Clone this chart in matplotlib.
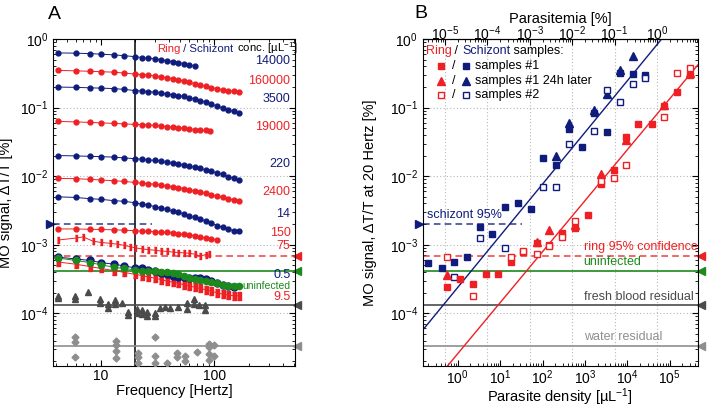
import numpy as np
import matplotlib.pyplot as plt
from matplotlib import ticker
from matplotlib.transforms import blended_transform_factory as blend

plt.rcParams['font.family'] = ['Liberation Sans', 'DejaVu Sans']
plt.rcParams['mathtext.default'] = 'regular'
plt.rcParams['font.size'] = 10

NAVY = '#0f1c7c'
RED = '#ee2024'
GREEN = '#1c8a1c'
DGRAY = '#4b4b4b'
LGRAY = '#8e8e8e'

# ---------------- panel A data (frequency sweeps) ----------------
f_long = [4.2, 6, 8, 10, 13, 16, 20, 23, 26, 30, 34, 38, 43, 48, 54, 60, 67, 75, 84, 94, 105, 118, 132, 148, 165]
f_mid = [4.2, 6, 8, 10, 13, 16, 20, 23, 26, 30, 34, 38, 43, 48, 54, 60, 67, 75, 84, 92]
f_short = [4.2, 6, 8, 10, 13, 16, 20, 23, 26, 30, 34, 38, 43, 48, 54, 60, 67]
f_150 = [4.2, 6, 8, 10, 13, 16, 20, 23, 26, 30, 34, 38, 43, 48, 54, 60, 67, 75, 84, 94, 105]
f_75 = [4.2, 6, 7, 8.5, 10, 12, 14, 16, 18, 20, 23, 26, 30, 34, 38, 43, 48, 54, 60, 67, 75, 84, 89]

schiz_14000 = [0.63, 0.625, 0.615, 0.605, 0.59, 0.575, 0.555, 0.54, 0.53, 0.515, 0.50, 0.485, 0.47, 0.455, 0.44, 0.425, 0.405]
ring_160000 = [0.35, 0.345, 0.34, 0.335, 0.33, 0.32, 0.31, 0.305, 0.30, 0.29, 0.28, 0.275, 0.265, 0.255, 0.245, 0.235,
               0.225, 0.215, 0.205, 0.197, 0.19, 0.183, 0.178, 0.173, 0.168]
schiz_3500 = [0.20, 0.198, 0.195, 0.193, 0.19, 0.185, 0.178, 0.175, 0.172, 0.168, 0.163, 0.158, 0.155, 0.15, 0.146, 0.14,
              0.134, 0.127, 0.12, 0.113, 0.106, 0.099, 0.093, 0.088, 0.083]
ring_19000 = [0.063, 0.062, 0.061, 0.060, 0.059, 0.058, 0.057, 0.0565, 0.056, 0.055, 0.054, 0.053, 0.052, 0.051, 0.050,
              0.049, 0.048, 0.047, 0.0465, 0.046]
schiz_220 = [0.020, 0.0198, 0.0195, 0.0193, 0.019, 0.0185, 0.018, 0.0177, 0.0173, 0.017, 0.0165, 0.016, 0.0155, 0.015,
             0.0145, 0.014, 0.0135, 0.013, 0.0124, 0.0118, 0.0112, 0.0106, 0.0099, 0.0093, 0.0087]
ring_2400 = [0.0093, 0.0092, 0.009, 0.0088, 0.0086, 0.0084, 0.0081, 0.0079, 0.0078, 0.0076, 0.0074, 0.0072, 0.0070,
             0.0068, 0.0066, 0.0063, 0.0061, 0.0059, 0.0056, 0.0053, 0.0051, 0.0049, 0.0047, 0.0045, 0.0043]
schiz_14 = [0.0050, 0.0049, 0.0047, 0.0046, 0.0044, 0.0043, 0.0041, 0.0039, 0.0038, 0.0036, 0.0034, 0.0033, 0.0031,
            0.0030, 0.0028, 0.0026, 0.0025, 0.0024, 0.0022, 0.0021, 0.0019, 0.0018, 0.0017, 0.0016, 0.0016]
ring_150 = [0.0017, 0.0017, 0.00168, 0.00167, 0.00165, 0.00163, 0.0016, 0.00158, 0.00156, 0.00155, 0.00153, 0.00151,
            0.00148, 0.00145, 0.00142, 0.00138, 0.00134, 0.0013, 0.00126, 0.00122, 0.00117]
ring_75 = [0.00117, 0.00125, 0.0013, 0.00113, 0.00108, 0.00105, 0.00102, 0.00098, 0.00094, 0.0009, 0.00087, 0.00085,
           0.00083, 0.00081, 0.0008, 0.00078, 0.00077, 0.00076, 0.00075, 0.00073, 0.00068, 0.00072, 0.00073]
schiz_05 = [6.6e-4, 6.2e-4, 5.9e-4, 5.5e-4, 5.2e-4, 4.9e-4, 4.6e-4, 4.5e-4, 4.3e-4, 4.1e-4, 3.9e-4, 3.7e-4, 3.5e-4,
            3.4e-4, 3.4e-4, 3.3e-4, 3.3e-4, 3.3e-4, 3.2e-4, 3.0e-4, 2.8e-4, 2.6e-4, 2.5e-4, 2.4e-4]
uninf_sweep = [6.4e-4, 5.9e-4, 5.5e-4, 5.1e-4, 4.7e-4, 4.5e-4, 4.3e-4, 4.2e-4, 4.15e-4, 4.1e-4, 4.0e-4, 3.95e-4, 3.85e-4,
               3.7e-4, 3.5e-4, 3.3e-4, 3.2e-4, 3.1e-4, 3.0e-4, 2.9e-4, 2.75e-4, 2.6e-4, 2.5e-4, 2.5e-4, 2.5e-4]
ring_95 = [5.6e-4, 5.2e-4, 4.8e-4, 4.5e-4, 4.2e-4, 3.95e-4, 3.7e-4, 3.55e-4, 3.4e-4, 3.25e-4, 3.1e-4, 2.95e-4, 2.85e-4,
           2.75e-4, 2.6e-4, 2.5e-4, 2.4e-4, 2.3e-4, 2.2e-4, 2.1e-4, 2.0e-4, 1.9e-4, 1.85e-4, 1.8e-4, 1.8e-4]

fb_freq = [4.2, 4.2, 5.9, 5.9, 7.7, 9.8, 9.8, 11.5, 11.5, 13.3, 13.3, 15.3, 17.3, 17.3, 20.8, 20.8, 23, 23, 25.5, 25.5,
           30, 30, 33, 37, 41, 48, 57.5, 57.5, 66, 66, 73.6, 83, 83]
fb_sig = [1.8e-4, 1.65e-4, 1.8e-4, 1.6e-4, 2.05e-4, 1.6e-4, 1.4e-4, 1.35e-4, 1.2e-4, 1.55e-4, 1.35e-4, 1.4e-4, 1.05e-4,
          0.95e-4, 1.15e-4, 1.02e-4, 1.1e-4, 0.98e-4, 1.05e-4, 0.92e-4, 1.0e-4, 0.9e-4, 1.2e-4, 1.25e-4, 1.2e-4,
          1.25e-4, 1.4e-4, 1.15e-4, 1.6e-4, 1.35e-4, 1.3e-4, 1.3e-4, 1.1e-4]
water_freq = [5.9, 5.9, 5.9, 13.6, 13.6, 13.6, 13.6, 21.3, 21.3, 21.3, 30, 30, 30, 38.4, 47, 47, 55, 55, 70,
              90, 90, 90, 90, 100, 100]
water_sig = [4.5e-5, 3.8e-5, 2.3e-5, 4.0e-5, 3.4e-5, 2.8e-5, 2.2e-5, 2.6e-5, 2.3e-5, 1.9e-5, 4.5e-5, 2.4e-5, 1.85e-5,
             1.9e-5, 2.6e-5, 2.3e-5, 2.4e-5, 2.0e-5, 2.7e-5, 3.6e-5, 3.2e-5, 2.5e-5, 2.1e-5, 3.4e-5, 2.4e-5]

conc_labels = ['14000', '160000', '3500', '19000', '220', '2400', '14', '150', '75', '0.5', 'uninfected', '9.5']
conc_colors = [NAVY, RED, NAVY, RED, NAVY, RED, NAVY, RED, RED, NAVY, GREEN, RED]

# reference levels (both panels)
schiz_conf = 2.0e-3
ring_conf = 6.8e-4
uninfected = 4.1e-4
fresh_blood = 1.3e-4
water = 3.3e-5

# ---------------- panel B data (signal at 20 Hz) ----------------
s1_dens = [0.2, 0.42, 0.8, 1.63, 3.3, 6.3, 12.8, 26, 52.7, 101, 204, 415, 840, 1600, 3250, 6600, 13400, 25800]
s1_sig = [5.4e-4, 4.5e-4, 5.6e-4, 6.6e-4, 1.8e-3, 1.42e-3, 3.5e-3, 4.0e-3, 3.3e-3, 0.0183, 0.0145, 0.0485, 0.0265,
          0.083, 0.044, 0.32, 0.31, 0.30]
s24_dens = [204, 415, 1600, 3250, 6600, 13400]
s24_sig = [0.0196, 0.059, 0.092, 0.16, 0.36, 0.56]
s2_dens = [0.8, 3.3, 12.8, 101, 204, 415, 1600, 3250, 6600, 13400, 25800]
s2_sig = [3.4e-4, 1.25e-3, 8.9e-4, 6.9e-3, 6.9e-3, 0.030, 0.045, 0.18, 0.12, 0.22, 0.27]

r1_dens = [0.55, 1.11, 2.26, 4.6, 8.8, 17.8, 34, 73, 140, 282, 575, 1170, 2350, 4780, 9140, 17700, 38000, 72000,
           148000, 296000]
r1_sig = [2.4e-4, 3.2e-4, 2.7e-4, 3.7e-4, 3.8e-4, 5.6e-4, 7.8e-4, 1.05e-3, 1.0e-3, 1.5e-3, 1.75e-3, 2.7e-3, 7.6e-3,
          0.0122, 0.037, 0.057, 0.057, 0.105, 0.168, 0.30]
r24_dens = [0.55, 73, 140, 575, 2350, 9140, 72000, 296000]
r24_sig = [3.6e-4, 1.09e-3, 1.63e-3, 1.93e-3, 0.0107, 0.034, 0.109, 0.32]
r2_dens = [0.55, 2.26, 17.8, 34, 73, 140, 282, 575, 2350, 4780, 9140, 72000, 148000, 296000]
r2_sig = [6.6e-4, 1.8e-4, 6.6e-4, 8.0e-4, 7.3e-4, 9.6e-4, 1.3e-3, 2.2e-3, 8.4e-3, 9.3e-3, 0.0145, 0.072, 0.32, 0.38]

# power-law fits: signal = amp * density ** expo
schiz_fit = (2.38e-4, 0.754)
ring_fit = (2.57e-5, 0.744)
rbc_per_ul = 5e4  # density giving 1 % parasitemia
parasitemia_ticks = [1e-5, 1e-4, 1e-3, 1e-2, 1e-1, 1e0]

fig = plt.figure(figsize=(7.07, 4.08), dpi=100)
axA = fig.add_axes([0.075, 0.103, 0.342, 0.801])
axB = fig.add_axes([0.598, 0.103, 0.389, 0.801])

tall = [(-0.45, -1.1), (0.45, -1.1), (0.45, 1.1), (-0.45, 1.1)]


def style(ax):
    ax.set_xscale('log')
    ax.set_yscale('log')
    ax.set_ylim(1.7e-5, 1.0)
    ax.tick_params(which='both', direction='in', right=True, labelsize=10)
    ax.tick_params(axis='x', pad=2)
    ax.tick_params(which='major', length=4)
    ax.tick_params(which='minor', length=2)
    ax.yaxis.set_minor_locator(ticker.LogLocator(subs=np.arange(2, 10)))
    ax.yaxis.grid(True, which='major', ls=(0, (1, 2)), color='#b8b8b8', lw=0.8)
    ax.set_axisbelow(True)


def ref_levels(ax, schiz_end):
    ax.axhline(schiz_conf, xmax=schiz_end, color=NAVY, lw=1.2, dashes=(4, 2.5), alpha=0.8)
    ax.axhline(ring_conf, color=RED, lw=1.2, dashes=(4, 2.5), alpha=0.8)
    ax.axhline(uninfected, color=GREEN, lw=1.2)
    ax.axhline(fresh_blood, color=DGRAY, lw=1.2)
    ax.axhline(water, color=LGRAY, lw=1.2)
    tr = blend(ax.transAxes, ax.transData)
    ax.plot([-0.012], [schiz_conf], '>', color=NAVY, ms=6, transform=tr, clip_on=False)
    for lvl, c in [(ring_conf, RED), (uninfected, GREEN), (fresh_blood, DGRAY), (water, LGRAY)]:
        ax.plot([1.01], [lvl], '<', color=c, ms=6, transform=tr, clip_on=False)


# ---------------- panel A ----------------
style(axA)
axA.set_xlim(3.8, 510)
axA.tick_params(which='both', top=True)
axA.xaxis.set_major_formatter(ticker.FuncFormatter(lambda v, p: f'{v:g}'))
axA.xaxis.set_minor_formatter(ticker.NullFormatter())
axA.axvline(20, color='black', lw=1.1, zorder=1)
ref_levels(axA, 0.41)

axA.plot(water_freq, water_sig, 'D', color=LGRAY, ms=3.5, zorder=3)
axA.plot(fb_freq, fb_sig, '^', color=DGRAY, ms=4.5, zorder=3)

sweeps = [
    (f_short, schiz_14000, NAVY, 'o', 3.5),
    (f_long, ring_160000, RED, 'o', 3.5),
    (f_long, schiz_3500, NAVY, 'o', 3.5),
    (f_mid, ring_19000, RED, 'o', 3.5),
    (f_long, schiz_220, NAVY, 'o', 3.5),
    (f_long, ring_2400, RED, 'o', 3.5),
    (f_long, schiz_14, NAVY, 'o', 3.5),
    (f_150, ring_150, RED, 'o', 3.5),
    (f_75, ring_75, RED, tall, 5),
    (f_long, ring_95, RED, tall, 5.5),
    (f_long[:24], schiz_05, NAVY, 'o', 5),
    (f_long, uninf_sweep, GREEN, 'o', 4.5),
]
for f, v, c, m, ms in sweeps:
    axA.plot(f, v, color=c, marker=m, ms=ms, lw=0.7, zorder=4)

label_y = [0.933, 0.872, 0.817, 0.731, 0.618, 0.532, 0.465, 0.407, 0.367, 0.278, 0.246, 0.211]
for lab, c, y in zip(conc_labels, conc_colors, label_y):
    fs = 7.5 if lab == 'uninfected' else 9
    axA.text(0.982, y, lab, color=c, fontsize=fs, ha='right', va='center', transform=axA.transAxes, zorder=6)

t1 = axA.text(0.43, 0.962, 'Ring', color=RED, fontsize=8.2, transform=axA.transAxes, va='baseline')
t2 = axA.annotate(' / Schizont', xy=(1, 0.962), xycoords=(t1, 'axes fraction'), color=NAVY, fontsize=8.2,
                  va='baseline')
axA.annotate(' conc. [µL$^{-1}$]', xy=(1, 0.962), xycoords=(t2, 'axes fraction'), color='black', fontsize=8.2,
             va='baseline')

axA.set_xlabel('Frequency [Hertz]', fontsize=10.5, labelpad=1)
axA.set_ylabel('MO signal, ΔT/T [%]', fontsize=10.5)
axA.yaxis.set_label_coords(-0.165, 0.5)

# ---------------- panel B ----------------
style(axB)
axB.set_xlim(0.15, 4.6e5)
for p in parasitemia_ticks:
    axB.axvline(p * rbc_per_ul, ls=(0, (1, 2)), color='#b8b8b8', lw=0.8, zorder=0)
ref_levels(axB, 0.36)

dd = np.logspace(np.log10(0.15), np.log10(4.6e5), 200)
axB.plot(dd, schiz_fit[0] * dd ** schiz_fit[1], color=NAVY, lw=1)
axB.plot(dd, ring_fit[0] * dd ** ring_fit[1], color=RED, lw=1)

axB.plot(s1_dens, s1_sig, 's', color=NAVY, ms=4.5, ls='none')
axB.plot(s24_dens, s24_sig, '^', color=NAVY, ms=5.5, ls='none')
axB.plot(s2_dens, s2_sig, 's', color=NAVY, mfc='white', mew=1, ms=4.2, ls='none')
axB.plot(r1_dens, r1_sig, 's', color=RED, ms=4.5, ls='none')
axB.plot(r24_dens, r24_sig, '^', color=RED, ms=5.5, ls='none')
axB.plot(r2_dens, r2_sig, 's', color=RED, mfc='white', mew=1, ms=4.2, ls='none')

top = axB.secondary_xaxis('top', functions=(lambda d: d / rbc_per_ul, lambda p: p * rbc_per_ul))
top.xaxis.set_major_locator(ticker.FixedLocator(parasitemia_ticks))
top.xaxis.set_major_formatter(ticker.LogFormatterSciNotation())
top.tick_params(which='both', direction='in', labelsize=10, pad=-3)
top.tick_params(which='major', length=4)
top.tick_params(which='minor', length=2)
top.set_xlabel('Parasitemia [%]', fontsize=10.5, labelpad=1)

tr = blend(axB.transAxes, axB.transData)
axB.text(0.015, schiz_conf * 1.1, 'schizont 95%', color=NAVY, fontsize=9, transform=tr, va='bottom')
for lab, lvl, c in [('ring 95% confidence', ring_conf, RED), ('uninfected', uninfected, GREEN),
                    ('fresh blood residual', fresh_blood, DGRAY), ('water residual', water, LGRAY)]:
    axB.text(0.585, lvl * 1.1, lab, color=c, fontsize=9, transform=tr, va='bottom')

b1 = axB.text(0.01, 0.955, 'Ring', color=RED, fontsize=9, transform=axB.transAxes, va='baseline')
b2 = axB.annotate(' / ', xy=(1, 0.955), xycoords=(b1, 'axes fraction'), color='black', fontsize=9, va='baseline')
b3 = axB.annotate('Schizont', xy=(1, 0.955), xycoords=(b2, 'axes fraction'), color=NAVY, fontsize=9, va='baseline')
axB.annotate(' samples:', xy=(1, 0.955), xycoords=(b3, 'axes fraction'), color='black', fontsize=9, va='baseline')
rows = [('s', 'samples #1', True), ('^', 'samples #1 24h later', True), ('s', 'samples #2', False)]
for i, (m, lab, filled) in enumerate(rows):
    y = 0.917 - i * 0.044
    for x, c in [(0.065, RED), (0.157, NAVY)]:
        axB.plot([x], [y], m, color=c, mfc=c if filled else 'white', mew=1, ms=4.5 if m == 's' else 5.5,
                 transform=axB.transAxes)
    axB.text(0.112, y, '/', fontsize=9, ha='center', va='center', transform=axB.transAxes)
    axB.text(0.19, y, lab, fontsize=9, va='center', transform=axB.transAxes)

axB.set_xlabel('Parasite density [µL$^{-1}$]', fontsize=10.5, labelpad=-1)
axB.set_ylabel('MO signal, ΔT/T at 20 Hertz [%]', fontsize=10.5)
axB.yaxis.set_label_coords(-0.165, 0.5)

fig.text(0.068, 0.965, 'A', fontsize=14, va='center')
fig.text(0.586, 0.968, 'B', fontsize=14, va='center')

fig.savefig('out.png', dpi=100)
